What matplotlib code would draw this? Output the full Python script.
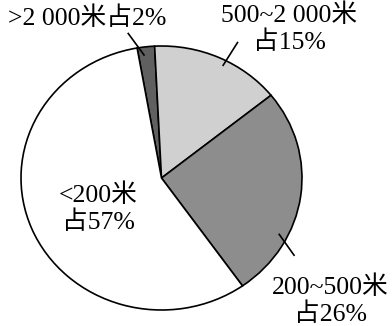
import numpy as np
import matplotlib
matplotlib.use("Agg")
import matplotlib.pyplot as plt

plt.rcParams["font.family"] = ["Liberation Serif", "Noto Sans CJK SC"]

# share of area by altitude band (%), drawn clockwise from the top
bands = [">2 000米", "500~2 000米", "200~500米", "<200米"]
shares = [2, 15, 26, 57]
colors = ["#606060", "#d0d0d0", "#8d8d8d", "#ffffff"]

# label text and where it sits (data coords)
label_text = [
    ">2 000米占2%",
    "500~2 000米\n占15%",
    "200~500米\n占26%",
    "<200米\n占57%",
]
label_pos = [(-0.53, 1.21), (0.91, 1.13), (1.20, -0.93), (-0.45, -0.23)]
# leader lines: (angle0, r0, angle1, r1) in degrees / pie radii
leaders = [(97.6, 0.94, 102.2, 1.12), (62.8, 0.96, 62.2, 1.16),
           (-27.0, 0.94, -31.8, 1.11), None]

fig = plt.figure(figsize=(3.92, 3.26), dpi=100)
ax = fig.add_axes([21 / 392, 16 / 326, 281 / 392, 264 / 326])

ax.pie(
    shares,
    colors=colors,
    startangle=100,
    counterclock=False,
    wedgeprops=dict(edgecolor="black", linewidth=1.2),
)
ax.set_aspect("auto")
ax.set_xlim(-1, 1)
ax.set_ylim(-1, 1)


def polar(ang, r):
    t = np.deg2rad(ang)
    return r * np.cos(t), r * np.sin(t)


for text, (x, y), lead in zip(label_text, label_pos, leaders):
    ax.text(x, y, text, ha="center", va="center", fontsize=18.5,
            linespacing=1.18, clip_on=False)
    if lead is not None:
        x0, y0 = polar(lead[0], lead[1])
        x1, y1 = polar(lead[2], lead[3])
        ax.plot([x0, x1], [y0, y1], color="black", linewidth=1.2, clip_on=False)

fig.savefig("out.png", dpi=100)
